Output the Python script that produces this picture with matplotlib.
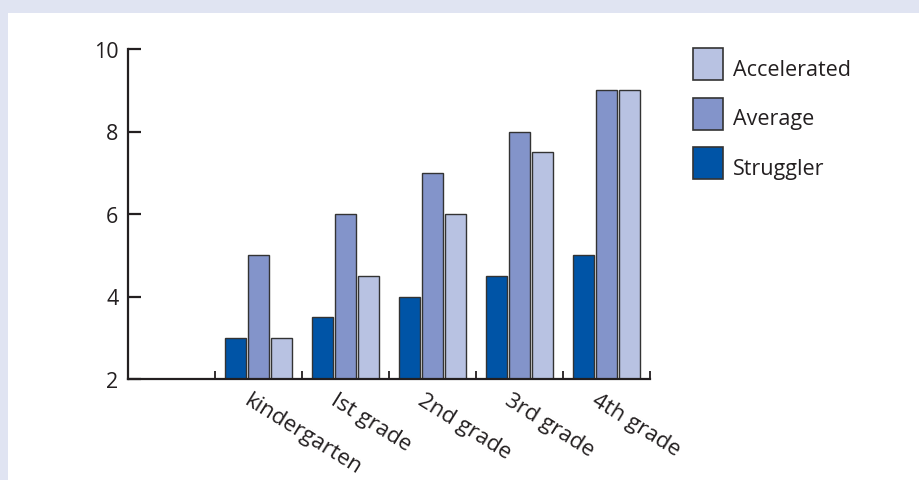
import numpy as np
import matplotlib.pyplot as plt
from matplotlib.patches import Rectangle

plt.rcParams['font.family'] = ['Open Sans', 'DejaVu Sans']

# Reading level by grade for three student groups
grades = ['kindergarten', 'Ist grade', '2nd grade', '3rd grade', '4th grade']
struggler = [3, 3.5, 4, 4.5, 5]
average = [5, 6, 7, 8, 9]
accelerated = [3, 4.5, 6, 7.5, 9]
legend_names = ['Accelerated', 'Average', 'Struggler']

c_strug = '#0054a6'
c_avg = '#8394ca'
c_acc = '#b8c2e2'
ink = '#231f20'
edge = '#333333'
fs = 15.5

W, H = 920, 481
fig = plt.figure(figsize=(W / 100, H / 100), dpi=100, facecolor='#e0e4f2')
# white panel inside the lavender frame
fig.patches.append(Rectangle((8 / W, 0), 1, 1 - 14 / H, transform=fig.transFigure,
                             facecolor='white', edgecolor='none', zorder=-5))

ax = fig.add_axes([128 / W, 101 / H, 522 / W, 330 / H])
ax.set_facecolor('none')

# first slot stays empty, grades occupy slots 1..5
slot = np.arange(len(grades)) + 1.5
off, bw = 0.262, 0.245
ax.bar(slot - off, struggler, bw, color=c_strug, edgecolor=edge, linewidth=1)
ax.bar(slot, average, bw, color=c_avg, edgecolor=edge, linewidth=1)
ax.bar(slot + off, accelerated, bw, color=c_acc, edgecolor=edge, linewidth=1)

ax.set_xlim(0, 6)
ax.set_ylim(2, 10)
ax.set_yticks([2, 4, 6, 8, 10])
ax.set_xticks(np.arange(1, 7))
ax.set_xticklabels([])

for s in ['top', 'right']:
    ax.spines[s].set_visible(False)
for s in ['left', 'bottom']:
    ax.spines[s].set_linewidth(1.6)
    ax.spines[s].set_color(ink)

ax.tick_params(axis='y', direction='in', length=9, width=1.6, color=ink,
               labelsize=fs, labelcolor=ink, pad=7)
ax.tick_params(axis='x', direction='in', length=6, width=1.3, color=ink)

for x, g in zip(slot, grades):
    ax.annotate(g, (x, 2), xytext=(-5, -7), textcoords='offset points',
                rotation=-32, rotation_mode='anchor', ha='left', va='top',
                fontsize=16, color=ink, annotation_clip=False)

# legend boxes, top to bottom
for i, (name, c) in enumerate(zip(legend_names, (c_acc, c_avg, c_strug))):
    top = 49 + i * 49.5
    fig.patches.append(Rectangle((693 / W, 1 - (top + 32) / H), 30 / W, 32 / H,
                                 transform=fig.transFigure, facecolor=c,
                                 edgecolor=edge, linewidth=1.2))
    fig.text(733 / W, 1 - (top + 27) / H, name, fontsize=fs, color=ink,
             ha='left', va='baseline')

fig.savefig('out.png', dpi=100, facecolor=fig.get_facecolor())
